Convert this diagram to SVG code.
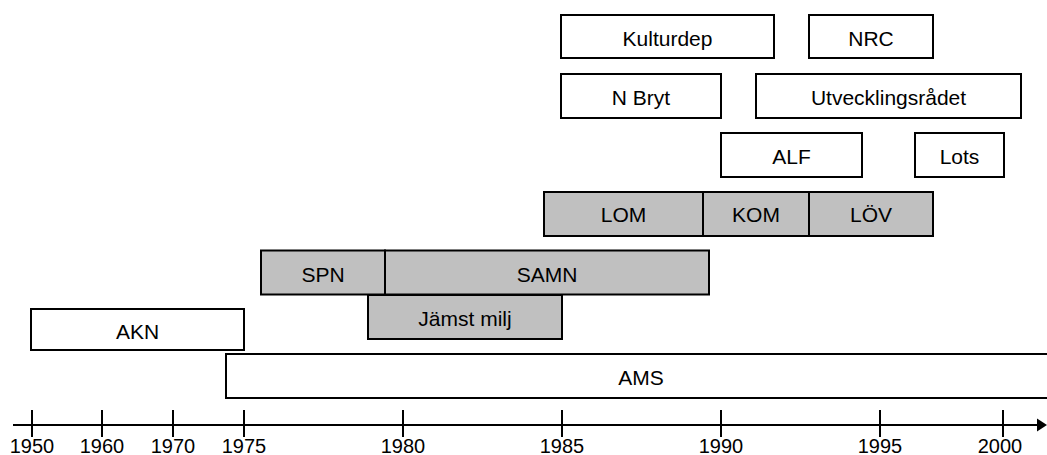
<svg xmlns="http://www.w3.org/2000/svg" width="1047" height="455" viewBox="0 0 1047 455">
<style>
.box{fill:#ffffff;stroke:#000000;stroke-width:2}
.gbox{fill:#c0c0c0;stroke:#000000;stroke-width:2}
.lbl{font-family:"Liberation Sans",Arial,sans-serif;font-size:21px;fill:#000000;text-anchor:middle}
.yr{font-family:"Liberation Sans",Arial,sans-serif;font-size:20px;fill:#000000;text-anchor:middle}
.ax{stroke:#000000;stroke-width:2;fill:none}
</style>
<rect width="1047" height="455" fill="#ffffff"/>
<g id="AMS"><rect class="box" x="226" y="354" width="830" height="44"/><text class="lbl" x="641" y="385">AMS</text></g>
<g id="AKN"><rect class="box" x="31" y="309" width="213" height="41"/><text class="lbl" x="137.5" y="339">AKN</text></g>
<g id="SPN"><rect class="gbox" x="261" y="250.5" width="124" height="44"/><text class="lbl" x="323" y="281.5">SPN</text></g>
<g id="SAMN"><rect class="gbox" x="385" y="250.5" width="324" height="44"/><text class="lbl" x="547" y="281.5">SAMN</text></g>
<g id="JamstMilj"><rect class="gbox" x="368" y="295" width="194" height="44"/><text class="lbl" x="465" y="326">Jämst milj</text></g>
<g id="LOM"><rect class="gbox" x="544" y="192" width="159" height="44"/><text class="lbl" x="623.5" y="222">LOM</text></g>
<g id="KOM"><rect class="gbox" x="703" y="192" width="106" height="44"/><text class="lbl" x="756" y="222">KOM</text></g>
<g id="LOV"><rect class="gbox" x="809" y="192" width="124" height="44"/><text class="lbl" x="871" y="222">LÖV</text></g>
<g id="ALF"><rect class="box" x="721" y="133" width="141" height="44"/><text class="lbl" x="791.5" y="163.5">ALF</text></g>
<g id="Lots"><rect class="box" x="915" y="133" width="89" height="44"/><text class="lbl" x="959.5" y="163.5">Lots</text></g>
<g id="NBryt"><rect class="box" x="561" y="74" width="160" height="44"/><text class="lbl" x="641" y="105">N Bryt</text></g>
<g id="Utvecklingsradet"><rect class="box" x="756" y="74" width="265" height="44"/><text class="lbl" x="888.5" y="105">Utvecklingsrådet</text></g>
<g id="Kulturdep"><rect class="box" x="561" y="15" width="213" height="43"/><text class="lbl" x="667.5" y="46">Kulturdep</text></g>
<g id="NRC"><rect class="box" x="809" y="15" width="124" height="43"/><text class="lbl" x="871" y="46">NRC</text></g>
<g id="axis">
<line class="ax" x1="13" y1="425" x2="1040" y2="425"/>
<polygon points="1037,418.5 1047,425 1037,431.5" fill="#000000"/>
<path class="ax" d="M32 410V437M102 410V437M173 410V437M244 410V437M403 410V437M562 410V437M721 410V437M880 410V437M1003 410V437"/>
<text class="yr" x="32" y="453">1950</text>
<text class="yr" x="102" y="453">1960</text>
<text class="yr" x="173" y="453">1970</text>
<text class="yr" x="244" y="453">1975</text>
<text class="yr" x="403" y="453">1980</text>
<text class="yr" x="562" y="453">1985</text>
<text class="yr" x="721" y="453">1990</text>
<text class="yr" x="880" y="453">1995</text>
<text class="yr" x="1000" y="453">2000</text>
</g>
</svg>
